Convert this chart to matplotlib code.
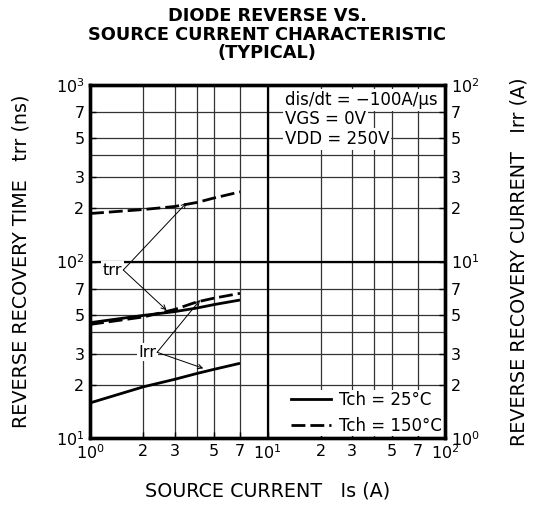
import numpy as np
import matplotlib
matplotlib.use('Agg')
import matplotlib.pyplot as plt
from matplotlib.ticker import FixedLocator, FixedFormatter
from matplotlib.lines import Line2D

plt.rcParams['font.family'] = ['DejaVu Sans']
plt.rcParams['mathtext.fontset'] = 'dejavusans'

# data
src_current = [1, 2, 3, 4, 5, 7]
trr_25 = [45, 49.5, 52, 54.5, 57, 60.5]
trr_150 = [187, 197, 205, 216, 229, 248]
irr_25 = [1.58, 1.95, 2.15, 2.32, 2.45, 2.65]
irr_150 = [4.4, 4.85, 5.35, 5.9, 6.2, 6.6]

mant_lab = [1, 2, 3, 5, 7]
mant_grid = [2, 3, 4, 5, 7]
x_decades = [1, 10, 100]
trr_decades = [10, 100, 1000]
irr_decades = [1, 10, 100]

conditions = ['dis/dt = \u2212100A/\u03bcs', 'VGS = 0V', 'VDD = 250V']

FS = 11.5
LFS = 13.8
DASH = (0, (5, 1.8))


def tick_setup(decades):
    locs, labs = [], []
    for d in decades[:-1]:
        for m in mant_lab:
            locs.append(d * m)
            labs.append(r'$\mathregular{10^{%d}}$' % round(np.log10(d)) if m == 1 else str(m))
    locs.append(decades[-1])
    labs.append(r'$\mathregular{10^{%d}}$' % round(np.log10(decades[-1])))
    minor = [d * m for d in decades[:-1] for m in mant_grid]
    return locs, labs, minor


fig = plt.figure(figsize=(5.34, 5.18), dpi=100)
ax = fig.add_axes([90/534, 80/518, 355/534, 353/518])
ax2 = ax.twinx()

for a in (ax, ax2):
    a.set_xscale('log')
    a.set_yscale('log')
ax.set_xlim(x_decades[0], x_decades[-1])
ax.set_ylim(trr_decades[0], trr_decades[-1])
ax2.set_ylim(irr_decades[0], irr_decades[-1])

xl, xlab, xmin = tick_setup(x_decades)
yl, ylab, ymin = tick_setup(trr_decades)
rl, rlab, rmin = tick_setup(irr_decades)

ax.xaxis.set_major_locator(FixedLocator(xl))
ax.xaxis.set_major_formatter(FixedFormatter(xlab))
ax.xaxis.set_minor_locator(FixedLocator(xmin))
ax.yaxis.set_major_locator(FixedLocator(yl))
ax.yaxis.set_major_formatter(FixedFormatter(ylab))
ax.yaxis.set_minor_locator(FixedLocator(ymin))
ax2.yaxis.set_major_locator(FixedLocator(rl))
ax2.yaxis.set_major_formatter(FixedFormatter(rlab))
ax2.yaxis.set_minor_locator(FixedLocator([]))

ax.tick_params(which='major', direction='in', length=4, width=1, labelsize=FS, pad=4)
ax.tick_params(which='minor', length=0)
ax2.tick_params(which='major', direction='in', length=4, width=1, labelsize=FS, pad=4)
ax2.tick_params(which='minor', length=0)

# grid: thin at 2,3,4,5,7, thicker at decades
ax.grid(True, which='both', color='#333333', linewidth=0.9)
for d in x_decades[1:-1]:
    ax.axvline(d, color='black', lw=1.6, zorder=0.6)
for d in trr_decades[1:-1]:
    ax.axhline(d, color='black', lw=1.6, zorder=0.6)
ax.set_axisbelow(True)

for a in (ax, ax2):
    for s in a.spines.values():
        s.set_linewidth(2.4)

ax.plot(src_current, trr_25, color='black', lw=2.0, solid_capstyle='butt', zorder=3)
ax.plot(src_current, trr_150, color='black', lw=2.0, ls=DASH, zorder=3)
ax2.plot(src_current, irr_25, color='black', lw=2.0, solid_capstyle='butt', zorder=3)
ax2.plot(src_current, irr_150, color='black', lw=2.0, ls=DASH, zorder=3)

# annotations with arrows
arw = dict(arrowstyle='->', lw=0.7, color='black', shrinkA=0, shrinkB=0, mutation_scale=8)
ax.text(1.52, 89.5, 'trr', ha='right', va='center', fontsize=FS,
        bbox=dict(facecolor='white', edgecolor='none', pad=1), zorder=4)
ax.annotate('', xy=(3.5, 215), xytext=(1.54, 89.5), arrowprops=arw, zorder=4)
ax.annotate('', xy=(2.7, 53), xytext=(1.54, 89.5), arrowprops=arw, zorder=4)
ax2.text(2.36, 3.06, 'Irr', ha='right', va='center', fontsize=FS,
         bbox=dict(facecolor='white', edgecolor='none', pad=1), zorder=4)
ax2.annotate('', xy=(4.17, 6.05), xytext=(2.39, 3.06), arrowprops=arw, zorder=4)
ax2.annotate('', xy=(4.35, 2.48), xytext=(2.39, 3.06), arrowprops=arw, zorder=4)

# condition text box
for i, s in enumerate(conditions):
    ax2.text(0.548, 0.958 - i * 0.055, s, transform=ax2.transAxes, ha='left', va='center',
             fontsize=12, bbox=dict(facecolor='white', edgecolor='none', pad=1.5), zorder=5)

handles = [Line2D([], [], color='black', lw=2.0),
           Line2D([], [], color='black', lw=2.0, ls=DASH)]
leg = ax2.legend(handles, ['Tch = 25\u00b0C', 'Tch = 150\u00b0C'], loc='lower right',
                 fontsize=12, frameon=True, fancybox=False, edgecolor='none',
                 framealpha=1, handlelength=2.4, handletextpad=0.45, borderpad=0.1,
                 labelspacing=0.45, borderaxespad=0.1)
leg.set_zorder(6)

ax.set_xlabel('SOURCE CURRENT   Is (A)', fontsize=LFS)
ax.xaxis.set_label_coords(0.5, -0.122)
ax.set_ylabel('REVERSE RECOVERY TIME   trr (ns)', fontsize=LFS)
ax.yaxis.set_label_coords(-0.168, 0.5)
ax2.set_ylabel('REVERSE RECOVERY CURRENT   Irr (A)', fontsize=LFS)
ax2.yaxis.set_label_coords(1.182, 0.5)

fig.text(0.5, 0.986, 'DIODE REVERSE VS.\nSOURCE CURRENT CHARACTERISTIC\n(TYPICAL)',
         ha='center', va='top', fontsize=12.8, fontweight='bold', linespacing=1.02)

fig.savefig('out.png', dpi=100)
